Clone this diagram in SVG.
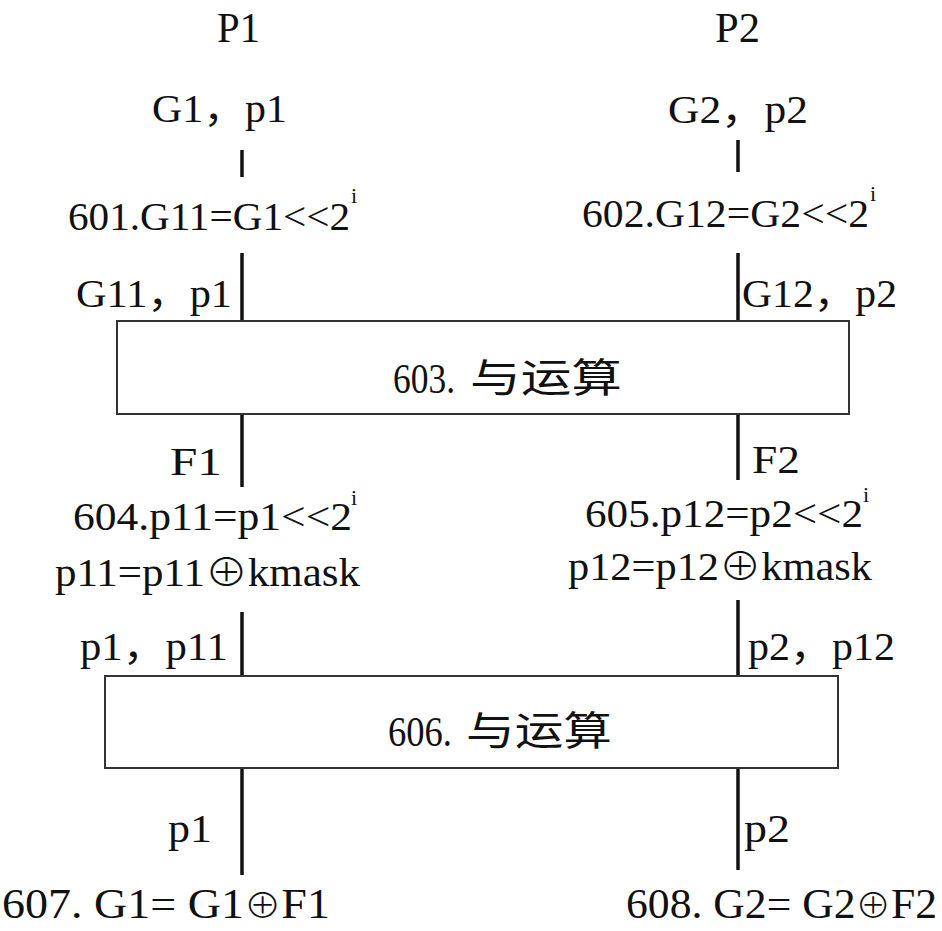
<svg xmlns="http://www.w3.org/2000/svg" width="942" height="931" viewBox="0 0 942 931">
  <style>
    .t { font-family: "Liberation Serif", "Noto Sans CJK SC", serif; font-size: 39px; fill: #111; }
    .h { font-size: 42px; }
    .sup { font-size: 22px; }
    .num { font-size: 43px; }
    .eq { font-size: 42px; }
    .op { font-family: "Noto Sans CJK SC", "DejaVu Sans", sans-serif; font-weight: 300; }
    .eq .op { font-size: 34px; }
    .cn { font-family: "Noto Sans CJK SC", sans-serif; font-size: 40px; fill: #111; }
    .wire { stroke: #111; stroke-width: 3.5; fill: none; }
    .box { fill: #fff; stroke: #333; stroke-width: 2; }
  </style>
  <rect width="942" height="931" fill="#fff"/>

  <!-- vertical data paths of the two parties -->
  <g id="connectors">
    <line class="wire" x1="242" y1="150" x2="242" y2="177"/>
    <line class="wire" x1="738" y1="140" x2="738" y2="172"/>
    <line class="wire" x1="242" y1="253" x2="242" y2="322"/>
    <line class="wire" x1="738" y1="253" x2="738" y2="322"/>
    <line class="wire" x1="242" y1="414" x2="242" y2="487"/>
    <line class="wire" x1="738" y1="414" x2="738" y2="480"/>
    <line class="wire" x1="242" y1="612" x2="242" y2="676"/>
    <line class="wire" x1="738" y1="600" x2="738" y2="676"/>
    <line class="wire" x1="242" y1="768" x2="242" y2="875"/>
    <line class="wire" x1="738" y1="768" x2="738" y2="870"/>
  </g>

  <!-- party headers -->
  <g id="p1-head">
    <text class="t h" x="217" y="42" textLength="43" lengthAdjust="spacingAndGlyphs">P1</text>
    <text class="t" x="152" y="122" textLength="135" lengthAdjust="spacingAndGlyphs">G1，p1</text>
  </g>
  <g id="p2-head">
    <text class="t h" x="715" y="42" textLength="45" lengthAdjust="spacingAndGlyphs">P2</text>
    <text class="t" x="668" y="123" textLength="140" lengthAdjust="spacingAndGlyphs">G2，p2</text>
  </g>

  <!-- step 601 / 602 -->
  <g id="step601">
    <text class="t" x="68" y="230" textLength="282" lengthAdjust="spacingAndGlyphs">601.G11=G1&lt;&lt;2</text>
    <text class="t sup" x="351" y="203">i</text>
    <text class="t" x="76" y="307" textLength="156" lengthAdjust="spacingAndGlyphs">G11，p1</text>
  </g>
  <g id="step602">
    <text class="t" x="582" y="227" textLength="287" lengthAdjust="spacingAndGlyphs">602.G12=G2&lt;&lt;2</text>
    <text class="t sup" x="870" y="201">i</text>
    <text class="t" x="742" y="307" textLength="155" lengthAdjust="spacingAndGlyphs">G12，p2</text>
  </g>

  <!-- step 603: joint AND -->
  <g id="step603">
    <rect class="box" x="117" y="321" width="732" height="93"/>
    <text class="t num" x="393" y="393" textLength="62" lengthAdjust="spacingAndGlyphs">603.</text>
    <text class="cn" x="470" y="392" textLength="152" lengthAdjust="spacingAndGlyphs">与运算</text>
  </g>

  <g id="f1">
    <text class="t" x="170" y="475" textLength="52" lengthAdjust="spacingAndGlyphs">F1</text>
  </g>
  <g id="f2">
    <text class="t" x="752" y="473" textLength="48" lengthAdjust="spacingAndGlyphs">F2</text>
  </g>

  <!-- step 604 / 605 -->
  <g id="step604">
    <text class="t" x="73" y="530" textLength="279" lengthAdjust="spacingAndGlyphs">604.p11=p1&lt;&lt;2</text>
    <text class="t sup" x="351" y="505">i</text>
    <text class="t" x="55" y="586" textLength="305" lengthAdjust="spacingAndGlyphs">p11=p11<tspan class="op">⊕</tspan>kmask</text>
    <text class="t" x="80" y="660" textLength="148" lengthAdjust="spacingAndGlyphs">p1，p11</text>
  </g>
  <g id="step605">
    <text class="t" x="585" y="527" textLength="278" lengthAdjust="spacingAndGlyphs">605.p12=p2&lt;&lt;2</text>
    <text class="t sup" x="863" y="502">i</text>
    <text class="t" x="568" y="580" textLength="304" lengthAdjust="spacingAndGlyphs">p12=p12<tspan class="op">⊕</tspan>kmask</text>
    <text class="t" x="748" y="660" textLength="147" lengthAdjust="spacingAndGlyphs">p2，p12</text>
  </g>

  <!-- step 606: joint AND -->
  <g id="step606">
    <rect class="box" x="105" y="676" width="733" height="92"/>
    <text class="t num" x="388" y="746" textLength="64" lengthAdjust="spacingAndGlyphs">606.</text>
    <text class="cn" x="466" y="745" textLength="146" lengthAdjust="spacingAndGlyphs">与运算</text>
  </g>

  <!-- step 607 / 608 -->
  <g id="step607">
    <text class="t" x="168" y="842" textLength="44" lengthAdjust="spacingAndGlyphs">p1</text>
    <text class="t eq" x="2" y="918" textLength="328" lengthAdjust="spacingAndGlyphs">607. G1= G1<tspan class="op">⊕</tspan>F1</text>
  </g>
  <g id="step608">
    <text class="t" x="744" y="842" textLength="46" lengthAdjust="spacingAndGlyphs">p2</text>
    <text class="t eq" x="626" y="918" textLength="311" lengthAdjust="spacingAndGlyphs">608. G2= G2<tspan class="op">⊕</tspan>F2</text>
  </g>
</svg>
